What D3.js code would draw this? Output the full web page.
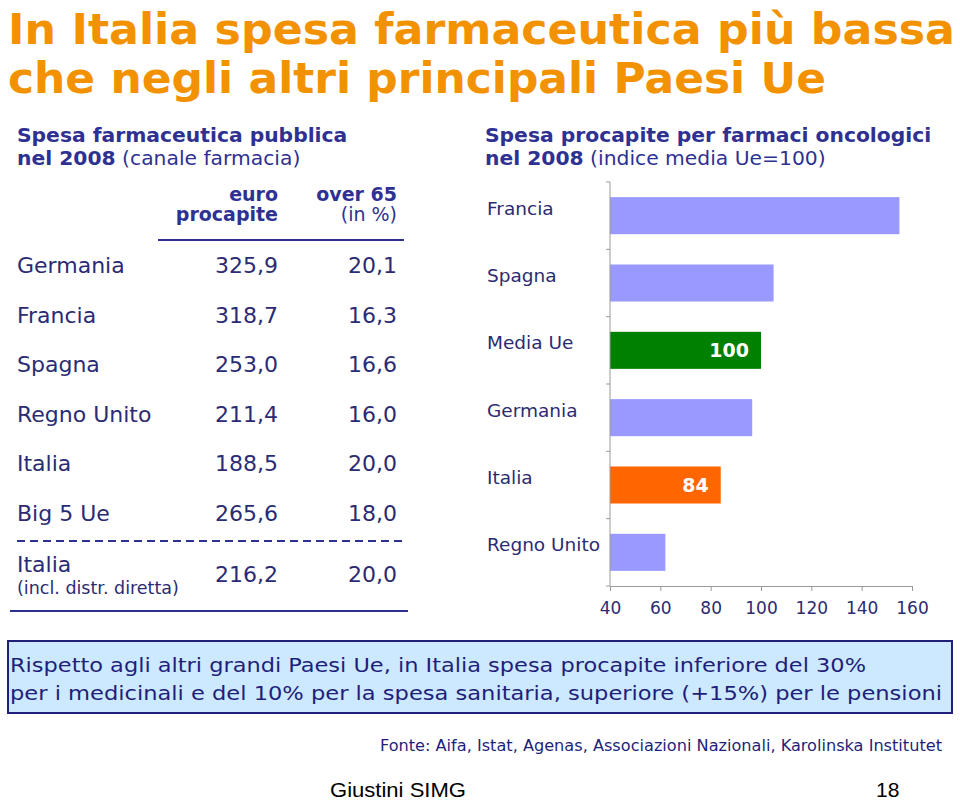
<!DOCTYPE html>
<html><head><meta charset="utf-8">
<script src="https://cdn.jsdelivr.net/npm/d3@7"></script>
<style>body{margin:0;background:#fff}svg{display:block}</style>
</head><body>
<script>
// ---- data ----
const tableCountries = ["Germania","Francia","Spagna","Regno Unito","Italia","Big 5 Ue"];
const tableEuro = ["325,9","318,7","253,0","211,4","188,5","265,6"];
const tableOver65 = ["20,1","16,3","16,6","16,0","20,0","18,0"];
const italiaInclLabel = ["Italia","(incl. distr. diretta)"];
const italiaInclEuro = "216,2";
const italiaInclOver65 = "20,0";

const barCategories = ["Francia","Spagna","Media Ue","Germania","Italia","Regno Unito"];
const barValues = [155,105,100,96.5,84,62];
const barLabels = ["","","100","","84",""];
const xTicks = [40,60,80,100,120,140,160];

const W=960,H=802;
const navy="#2e3192", txt="#2b2b73", orange="#f39200";
const svg=d3.select("body").append("svg").attr("width",W).attr("height",H);
const F="DejaVu Sans, Verdana, sans-serif";
const FN="'DejaVu Sans Condensed','Liberation Sans Narrow','Arial Narrow',sans-serif";

// title
[["In Italia spesa farmaceutica più bassa",44,947],["che negli altri principali Paesi Ue",93,818]].forEach(([t,y,L])=>{
  svg.append("text").attr("x",8).attr("y",y).attr("font-family",F).attr("font-weight","bold")
    .attr("font-size",42).attr("fill",orange).attr("textLength",L).attr("lengthAdjust","spacingAndGlyphs").text(t);
});

// subtitles
function sub(x,y,bold,normal){
  const t=svg.append("text").attr("x",x).attr("y",y).attr("font-family",F).attr("font-size",20.3).attr("fill",navy);
  t.append("tspan").attr("font-weight","bold").text(bold);
  if(normal) t.append("tspan").text(normal);
}
sub(17,142,"Spesa farmaceutica pubblica");
sub(17,165,"nel 2008"," (canale farmacia)");
sub(485,142,"Spesa procapite per farmaci oncologici");
sub(485,165,"nel 2008"," (indice media Ue=100)");

// table header
const col1=278,col2=397;
const hdr=[[col1,201,"euro","bold"],[col1,221,"procapite","bold"],[col2,201,"over 65","bold"],[col2,221,"(in %)","normal"]];
hdr.forEach(([x,y,t,w])=>svg.append("text").attr("x",x).attr("y",y).attr("text-anchor","end")
  .attr("font-family",F).attr("font-size",19).attr("font-weight",w).attr("fill",navy).text(t));
svg.append("line").attr("x1",158).attr("x2",404).attr("y1",240).attr("y2",240).attr("stroke",navy).attr("stroke-width",2);

// table rows
const rowY=d3.scalePoint().domain(tableCountries).range([273,520.5]);
const g=svg.append("g").attr("font-family",F).attr("font-size",22).attr("fill",txt);
tableCountries.forEach((c,i)=>{
  const y=rowY(c);
  g.append("text").attr("x",17).attr("y",y).text(c);
  g.append("text").attr("x",col1).attr("y",y).attr("text-anchor","end").text(tableEuro[i]);
  g.append("text").attr("x",col2).attr("y",y).attr("text-anchor","end").text(tableOver65[i]);
});
svg.append("line").attr("x1",17).attr("x2",403).attr("y1",541).attr("y2",541).attr("stroke",navy)
  .attr("stroke-width",2).attr("stroke-dasharray","8,5");
g.append("text").attr("x",17).attr("y",572).text(italiaInclLabel[0]);
g.append("text").attr("x",17).attr("y",594).attr("font-size",17.5).text(italiaInclLabel[1]);
g.append("text").attr("x",col1).attr("y",582).attr("text-anchor","end").text(italiaInclEuro);
g.append("text").attr("x",col2).attr("y",582).attr("text-anchor","end").text(italiaInclOver65);
svg.append("line").attr("x1",10).attr("x2",408).attr("y1",611).attr("y2",611).attr("stroke",navy).attr("stroke-width",2);

// bar chart
const x=d3.scaleLinear().domain([40,160]).range([610,912]);
const y=d3.scaleBand().domain(barCategories).range([182,586]).paddingInner(0.45).paddingOuter(0.225);
const colors={"Media Ue":"#008000","Italia":"#ff6600"};
svg.append("g").selectAll("rect").data(barCategories).join("rect")
  .attr("x",x(40)).attr("y",d=>y(d)).attr("height",y.bandwidth())
  .attr("width",(d,i)=>x(barValues[i])-x(40)).attr("fill",d=>colors[d]||"#9999ff");
// y axis line + band ticks
const axG=svg.append("g").attr("stroke","#9a9a9a").attr("stroke-width",1);
axG.append("line").attr("x1",610).attr("x2",610).attr("y1",182).attr("y2",586);
d3.range(barCategories.length+1).forEach(i=>{
  const yy=182+i*y.step();
  axG.append("line").attr("x1",606).attr("x2",610).attr("y1",yy).attr("y2",yy);
});
// x axis
const xa=svg.append("g").attr("transform","translate(0,586)").call(d3.axisBottom(x).tickValues(xTicks).tickSize(5).tickSizeOuter(0));
xa.select(".domain").attr("stroke","#9a9a9a");
xa.selectAll(".tick line").attr("stroke","#9a9a9a");
xa.selectAll(".tick text").attr("font-family",F).attr("font-size",17).attr("fill",txt).attr("y",0).attr("dy",28);
// category labels
svg.append("g").selectAll("text").data(barCategories).join("text")
  .attr("x",487).attr("y",d=>y(d)+y.bandwidth()/2-1).attr("font-family",F).attr("font-size",18.5).attr("fill",txt).text(d=>d);
// value labels
svg.append("g").selectAll("text").data(barCategories).join("text")
  .attr("x",(d,i)=>x(barValues[i])-12).attr("y",d=>y(d)+y.bandwidth()/2+7).attr("text-anchor","end")
  .attr("font-family",F).attr("font-weight","bold").attr("font-size",19).attr("fill","#fff").text((d,i)=>barLabels[i]);

// note box
svg.append("rect").attr("x",8).attr("y",641).attr("width",944).attr("height",72).attr("fill","#cce9ff").attr("stroke","#1f1f7a").attr("stroke-width",2);
[["Rispetto agli altri grandi Paesi Ue, in Italia spesa procapite inferiore del 30%",672,856],
 ["per i medicinali e del 10% per la spesa sanitaria, superiore (+15%) per le pensioni",700,932]].forEach(([t,yy,L])=>{
  svg.append("text").attr("x",10).attr("y",yy).attr("font-family",FN).attr("font-size",20).attr("fill","#1f1f7a")
    .attr("textLength",L).attr("lengthAdjust","spacingAndGlyphs").text(t);
});
svg.append("text").attr("x",380).attr("y",751).attr("font-family",FN).attr("font-size",15).attr("fill","#1f1f7a")
  .attr("textLength",562).attr("lengthAdjust","spacingAndGlyphs").text("Fonte: Aifa, Istat, Agenas, Associazioni Nazionali, Karolinska Institutet");
svg.append("text").attr("x",330).attr("y",797).attr("font-family","'Liberation Sans Narrow','Liberation Sans',Arial,sans-serif").attr("font-size",21).attr("fill","#000")
  .attr("textLength",136).attr("lengthAdjust","spacingAndGlyphs").text("Giustini SIMG");
svg.append("text").attr("x",876).attr("y",797).attr("font-family","'Liberation Sans Narrow','Liberation Sans',Arial,sans-serif").attr("font-size",21).attr("fill","#000").text("18");
</script>
</body></html>
